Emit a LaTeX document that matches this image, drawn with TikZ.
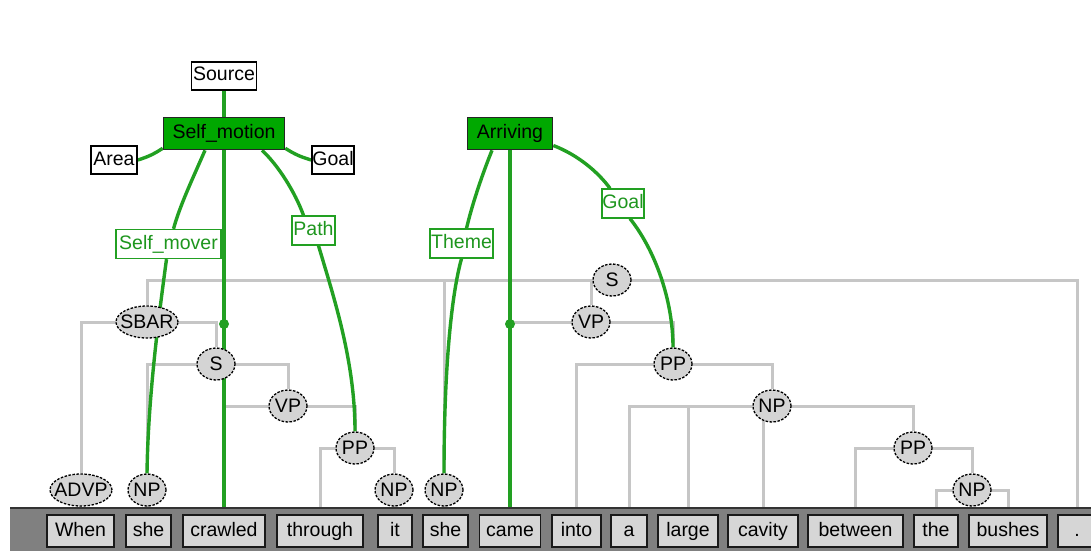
\documentclass[tikz,border=0pt]{standalone}
\usepackage{fontspec}
\setmainfont{Liberation Sans}
\usetikzlibrary{shapes.geometric,calc}
\definecolor{gfill}{RGB}{0,168,0}
\definecolor{gline}{RGB}{34,160,34}
\definecolor{gtext}{RGB}{30,150,30}
\definecolor{tline}{RGB}{198,198,198}
\definecolor{efill}{RGB}{212,212,212}
\definecolor{wfill}{RGB}{214,214,214}
\definecolor{barc}{RGB}{128,128,128}
\pgfdeclarelayer{bg}
\pgfdeclarelayer{edges}
\pgfsetlayers{bg,edges,main}
\tikzset{
  every node/.style={font=\fontsize{19.5}{22}\selectfont},
  word/.style={rectangle, draw=black!90, line width=1.8pt, fill=wfill, inner sep=0pt,
    minimum height=32pt, text height=14pt, text depth=4pt},
  tnode/.style={ellipse, draw=black, line width=1.3pt, dash pattern=on 2.5pt off 1.5pt,
    fill=efill, inner sep=0pt, minimum height=32pt, minimum width=38pt},
  frameel/.style={rectangle, draw=black, line width=1.6pt, fill=white, inner sep=0pt,
    minimum height=28pt, text height=14pt, text depth=4pt},
  target/.style={rectangle, draw=black!85, line width=1.6pt, fill=gfill, inner sep=0pt,
    minimum height=32pt, text height=14pt, text depth=4pt},
  role/.style={rectangle, draw=gline, line width=1.3pt, fill=white, text=gtext, inner sep=0pt,
    minimum height=29pt, text height=14pt, text depth=4pt},
  tedge/.style={draw=tline, line width=3pt},
  gedge/.style={draw=gline, line width=3.4pt},
  gdot/.style={circle, fill=gline, inner sep=0pt, minimum size=10pt}
}
\begin{document}
\begin{tikzpicture}[x=1pt,y=-1pt]
\useasboundingbox (0,0) rectangle (1091,551);
\begin{pgfonlayer}{bg}
\fill[white] (0,0) rectangle (1091,551);
\end{pgfonlayer}

% bottom bar
\fill[barc] (10,508) rectangle (1091,551);
\draw[black!80, line width=1.5pt] (10,508) -- (1091,508);

% words
\node[word, minimum width=67pt] (w1) at (80.5,531) {When};
\node[word, minimum width=45pt] (w2) at (148.5,531) {she};
\node[word, minimum width=82pt] (w3) at (224,531) {crawled};
\node[word, minimum width=86pt] (w4) at (320,531) {through};
\node[word, minimum width=34pt] (w5) at (395,531) {it};
\node[word, minimum width=45pt] (w6) at (445.5,531) {she};
\node[word, minimum width=61pt] (w7) at (510,531) {came};
\node[word, minimum width=49pt] (w8) at (576.5,531) {into};
\node[word, minimum width=36pt] (w9) at (629,531) {a};
\node[word, minimum width=60pt] (w10) at (688,531) {large};
\node[word, minimum width=70pt] (w11) at (763,531) {cavity};
\node[word, minimum width=95pt] (w12) at (855.5,531) {between};
\node[word, minimum width=44pt] (w13) at (936,531) {the};
\node[word, minimum width=78pt] (w14) at (1008,531) {bushes};
\node[word, minimum width=38pt] (w15) at (1077,531) {.};

% syntax nodes
\node[tnode, minimum width=62pt, label=center:ADVP] (advp) at (81,490) {};
\node[tnode, label=center:NP] (np1) at (147,490) {};
\node[tnode, minimum width=62pt, label=center:SBAR] (sbar) at (147,322) {};
\node[tnode, label=center:S] (s1) at (216,364) {};
\node[tnode, label=center:VP] (vp1) at (288,406) {};
\node[tnode, label=center:PP] (pp1) at (355,448) {};
\node[tnode, label=center:NP] (np2) at (394,490) {};
\node[tnode, label=center:NP] (np3) at (444,490) {};
\node[tnode, label=center:S] (s0) at (612,280) {};
\node[tnode, label=center:VP] (vp2) at (591,322) {};
\node[tnode, label=center:PP] (pp2) at (673,364) {};
\node[tnode, label=center:NP] (np4) at (772,406) {};
\node[tnode, label=center:PP] (pp3) at (913,448) {};
\node[tnode, label=center:NP] (np5) at (972,490) {};

% frame nodes
\node[frameel, minimum width=65pt] (src) at (224,76) {Source};
\node[target, minimum width=121pt] (sm) at (224,133.5) {Self\_motion};
\node[frameel, minimum width=46pt] (area) at (114,160) {Area};
\node[frameel, minimum width=42pt] (goal1) at (333,160) {Goal};
\node[role, minimum width=105pt] (smv) at (168.5,244) {Self\_mover};
\node[role, minimum width=43pt] (path) at (313.5,230.5) {Path};
\node[target, minimum width=85pt] (arr) at (510,133.5) {Arriving};
\node[role, minimum width=63pt] (theme) at (461.5,243.5) {Theme};
\node[role, minimum width=42pt] (goal2) at (623,203.5) {Goal};
\node[gdot] (d1) at (224,324) {};
\node[gdot] (d2) at (510,324) {};

\begin{pgfonlayer}{edges}
% syntax tree edges
\draw[tedge] (s0.center) -| (sbar.north);
\draw[tedge] (s0.center) -| (np3.north);
\draw[tedge] (s0.center) -| (vp2.north);
\draw[tedge] (s0.center) -| (w15.north);
\draw[tedge] (sbar.center) -| (advp.north);
\draw[tedge] (sbar.center) -| (s1.north);
\draw[tedge] (s1.center) -| (np1.north);
\draw[tedge] (s1.center) -| (vp1.north);
\draw[tedge] (vp1.center) -| (w3.north);
\draw[tedge] (vp1.center) -| (pp1.north);
\draw[tedge] (pp1.center) -| (w4.north);
\draw[tedge] (pp1.center) -| (np2.north);
\draw[tedge] (np2.center) -| (w5.north);
\draw[tedge] (advp.center) -| (w1.north);
\draw[tedge] (np1.center) -| (w2.north);
\draw[tedge] (np3.center) -| (w6.north);
\draw[tedge] (vp2.center) -| (w7.north);
\draw[tedge] (vp2.center) -| (pp2.north);
\draw[tedge] (pp2.center) -| (w8.north);
\draw[tedge] (pp2.center) -| (np4.north);
\draw[tedge] (np4.center) -| (w9.north);
\draw[tedge] (np4.center) -| (w10.north);
\draw[tedge] (np4.center) -| (w11.north);
\draw[tedge] (np4.center) -| (pp3.north);
\draw[tedge] (pp3.center) -| (w12.north);
\draw[tedge] (pp3.center) -| (np5.north);
\draw[tedge] (np5.center) -| (w13.north);
\draw[tedge] (np5.center) -| (w14.north);

% frame edges
\draw[gedge] (src.south) -- (sm.north);
\draw[gedge] ($(sm.south west)+(0,-2)$) to[bend left=8] (area.east);
\draw[gedge] ($(sm.south east)+(0,-2)$) to[bend right=8] (goal1.west);
\draw[gedge] (sm.south) -- (d1.center) -- (w3.north);
\draw[gedge] ($(sm.south)+(-19,0)$) .. controls (193,178) and (180,205) .. ($(smv.north)+(5,0)$);
\draw[gedge] ($(smv.south)+(-2,0)$) .. controls (158,322) and (148,400) .. (np1.north);
\draw[gedge] ($(sm.south)+(38,0)$) .. controls (278,165) and (295,192) .. ($(path.north)+(-10,0)$);
\draw[gedge] ($(path.south)+(5,0)$) .. controls (333,295) and (355,360) .. (pp1.north);

\draw[gedge] (arr.south) -- (d2.center) -- (w7.north);
\draw[gedge] ($(arr.south)+(-18,0)$) .. controls (482,175) and (472,205) .. ($(theme.north)+(5,0)$);
\draw[gedge] (theme.south) .. controls (450,300) and (444,380) .. (np3.north);
\draw[gedge] ($(arr.east)+(0,12)$) .. controls (578,155) and (598,172) .. ($(goal2.north)+(-13,0)$);
\draw[gedge] ($(goal2.south)+(7,0)$) .. controls (655,250) and (673,300) .. (pp2.north);
\end{pgfonlayer}
\end{tikzpicture}
\end{document}
